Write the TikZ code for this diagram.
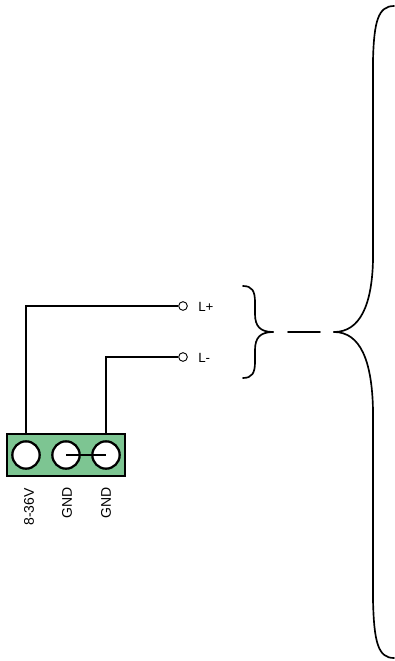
\documentclass[tikz,border=0pt]{standalone}
\usepackage{fontspec}
\setmainfont{Liberation Sans}
\usetikzlibrary{positioning}
\definecolor{blockgreen}{HTML}{7DC592}
\tikzset{
  block/.style    = {shape=rectangle, draw, line width=1.6pt, fill=blockgreen,
                     minimum width=88.5pt, minimum height=31.5pt, inner sep=0pt},
  pin/.style      = {shape=circle, draw, line width=1.7pt, fill=white,
                     minimum size=20.5pt, inner sep=0pt},
  port/.style     = {shape=circle, draw, line width=0.7pt, fill=white,
                     minimum size=6.5pt, inner sep=0pt},
  wire/.style     = {line width=1pt},
  curly/.style    = {line width=1.25pt, line cap=round},
  label/.style    = {font=\fontsize{10}{12}\selectfont, inner sep=0pt},
  pinlabel/.style = {font=\fontsize{10.5}{12}\selectfont, rotate=90, anchor=east, inner sep=0pt}
}
\begin{document}
\begin{tikzpicture}[x=0.75pt,y=-0.75pt]
  \useasboundingbox (0,0) rectangle (395,661);

  \node [block] (term) at (66,455) {};
  \node [pin] (pinA) at (26,455) {};
  \node [pin] (pinB) at (66,455) {};
  \node [pin] (pinC) at (106,455) {};
  \draw [wire] (pinB.center) -- (pinC.center);

  \node [pinlabel] (txtA) at (29,488) {8-36V};
  \node [pinlabel] (txtB) at (67,487) {GND};
  \node [pinlabel] (txtC) at (106,487) {GND};

  \node [port] (plus) at (183,306) {};
  \node [port] (minus) at (183,357) {};
  \node [label, right=15 of plus.center, yshift=-0.75pt, anchor=west] (txtP) {L+};
  \node [label, right=15 of minus.center, yshift=-0.75pt, anchor=west] (txtM) {L-};

  \draw [wire] (pinA |- term.north) |- (plus);
  \draw [wire] (pinC |- term.north) |- (minus);

  % small brace and the broken line
  \coordinate (tipS) at (273,332);
  \coordinate (gapA) at (288,332);
  \coordinate (gapB) at (320,332);
  \coordinate (tipL) at (334,332);
  \draw [curly] (243,286) .. controls (252,286) and (255,291) .. (255,302)
    -- (255,314) .. controls (255,326) and (260,332) .. (tipS);
  \draw [curly] (243,378) .. controls (252,378) and (255,373) .. (255,362)
    -- (255,350) .. controls (255,338) and (260,332) .. (tipS);
  \draw [curly] (gapA) -- (gapB);

  % large brace
  \draw [curly] (tipL) .. controls (360,332) and (372,305) .. (373,260)
    -- (373,60) .. controls (374,22) and (378,6) .. (394,6);
  \draw [curly] (tipL) .. controls (360,332) and (372,360) .. (373,410)
    -- (373,600) .. controls (374,642) and (378,658) .. (394,658);
\end{tikzpicture}
\end{document}
